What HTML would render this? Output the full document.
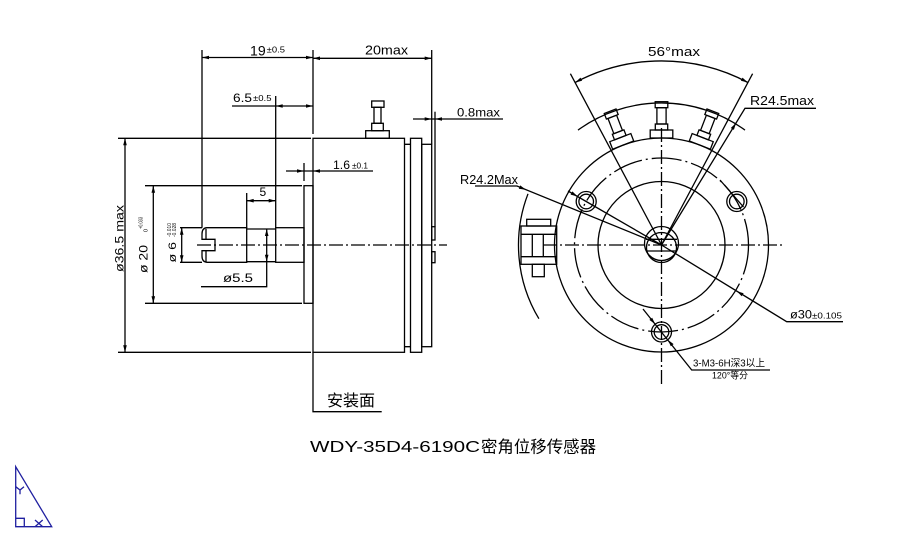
<!DOCTYPE html>
<html><head><meta charset="utf-8"><style>
html,body{margin:0;padding:0;background:#fff;width:923px;height:543px;overflow:hidden}
svg{display:block}
text{font-family:"Liberation Sans","Noto Sans CJK SC",sans-serif;fill:#000}
</style></head><body>
<svg width="923" height="543" viewBox="0 0 923 543" xmlns="http://www.w3.org/2000/svg">
<rect width="923" height="543" fill="#fff"/>
<g fill="none" stroke="#000" stroke-width="1.3">
<!-- LEFT VIEW -->
<line x1="202" y1="50" x2="202" y2="227.7"/>
<line x1="313" y1="50" x2="313" y2="134"/>
<line x1="202" y1="57.5" x2="313" y2="57.5"/>
<line x1="313" y1="58.3" x2="431.7" y2="58.3"/>
<line x1="431.7" y1="50" x2="431.7" y2="144.3"/>
<line x1="232" y1="106" x2="313" y2="106"/>
<line x1="275.7" y1="96" x2="275.7" y2="227.7"/>
<line x1="118" y1="138.3" x2="311" y2="138.3"/>
<rect x="313" y="138.3" width="91.5" height="214"/>
<path d="M404.5 144.3 H410.5 M404.5 346.7 H410.5"/>
<rect x="410.5" y="138.3" width="11.2" height="214"/>
<rect x="421.7" y="144.3" width="10" height="202.4"/>
<rect x="431.7" y="226.7" width="3.3" height="13.3"/>
<rect x="431.7" y="251.7" width="3.3" height="11"/>
<line x1="435" y1="111.7" x2="435" y2="226.7"/>
<line x1="413" y1="119" x2="503" y2="119"/>
<rect x="365.7" y="130.7" width="23.6" height="7.6"/>
<rect x="371.7" y="123.3" width="11.6" height="7.4"/>
<rect x="374" y="107.3" width="7" height="16"/>
<rect x="371.7" y="101" width="12.3" height="6.3"/>
<line x1="286" y1="171" x2="373" y2="171"/>
<line x1="304" y1="163" x2="304" y2="181"/>
<rect x="304" y="185.7" width="9" height="117.6"/>
<line x1="145" y1="185.7" x2="302" y2="185.7"/>
<line x1="145" y1="303.3" x2="302" y2="303.3"/>
<line x1="153.3" y1="185.7" x2="153.3" y2="303.3"/>
<line x1="125" y1="138.3" x2="125" y2="352.3"/>
<line x1="118" y1="352.3" x2="311" y2="352.3"/>
<rect x="275.7" y="227.7" width="28.3" height="34.6"/>
<path d="M246.7 229 H275.7 M246.7 261.7 H275.7"/>
<path d="M246.7 227.7 V262.3 H207 Q202 262 202 256 V250.7 H215 V239.3 H202 V234 Q202 228 207 227.7 Z"/>
<path d="M206 229 V239.3 M206 250.7 V261.5"/>
<line x1="246.7" y1="193" x2="246.7" y2="227.7"/>
<line x1="246.7" y1="200.7" x2="275.7" y2="200.7"/>
<line x1="181.7" y1="227.7" x2="181.7" y2="262.3"/>
<line x1="180" y1="227.7" x2="202" y2="227.7"/>
<line x1="180" y1="262.3" x2="202" y2="262.3"/>
<path d="M266.7 229 V286.7 H201"/>
<line x1="197" y1="245" x2="447" y2="245" stroke-dasharray="14 3 2 3"/>
<path d="M313 352.3 V411.7 H381.7"/>

<!-- RIGHT VIEW -->
<circle cx="661.5" cy="245" r="107"/>
<circle cx="661.5" cy="245" r="87" stroke-dasharray="30 4 2 4"/>
<circle cx="661.5" cy="245" r="63.5"/>
<circle cx="661.5" cy="243.5" r="17"/>
<circle cx="661.5" cy="247.5" r="15"/>
<path d="M646 239.3 H677 M646 251 H677"/>
<circle cx="661.5" cy="332" r="10"/><circle cx="661.5" cy="332" r="7.3"/>
<circle cx="586.2" cy="201.5" r="10"/><circle cx="586.2" cy="201.5" r="7.3"/>
<circle cx="736.8" cy="201.5" r="10"/><circle cx="736.8" cy="201.5" r="7.3"/>
<line x1="720" y1="180" x2="743.5" y2="207"/>
<line x1="568" y1="191" x2="661.5" y2="245"/>
<path d="M475 186 H517 L661.5 245"/>
<path d="M643 309 L691.7 370 H770"/>
<path d="M661.5 245 L786.7 321.7 H843"/>
<line x1="570.4" y1="73.7" x2="661.5" y2="245"/>
<line x1="752.6" y1="73.7" x2="661.5" y2="245"/>
<path d="M816 108.3 H745 L661.5 245"/>
<path d="M575.1 82.5 A184 184 0 0 1 747.9 82.5"/>
<path d="M578 130.1 A142 142 0 0 1 745 130.1"/>
<path d="M528 193.8 A143 143 0 0 0 538.9 318.7"/>
<line x1="543" y1="245" x2="783" y2="245" stroke-dasharray="14 3 2 3"/>
<line x1="661.5" y1="128" x2="661.5" y2="386" stroke-dasharray="14 3 2 3"/>
<g transform="translate(661.5,245)">
<rect x="-11.3" y="-115" width="22.6" height="8"/><rect x="-6.2" y="-121" width="12.4" height="6"/><rect x="-4.6" y="-137.3" width="9.2" height="16.3"/><rect x="-6.3" y="-143.3" width="12.6" height="6"/>
</g>
<g transform="translate(661.5,245) rotate(-21)">
<rect x="-11.3" y="-115" width="22.6" height="8"/><rect x="-6.2" y="-121" width="12.4" height="6"/><rect x="-4.6" y="-137.3" width="9.2" height="16.3"/><rect x="-6.3" y="-143.3" width="12.6" height="6"/>
</g>
<g transform="translate(661.5,245) rotate(21)">
<rect x="-11.3" y="-115" width="22.6" height="8"/><rect x="-6.2" y="-121" width="12.4" height="6"/><rect x="-4.6" y="-137.3" width="9.2" height="16.3"/><rect x="-6.3" y="-143.3" width="12.6" height="6"/>
</g>
<rect x="526.7" y="219.3" width="24" height="6.7"/>
<rect x="521" y="226" width="35.7" height="38.3"/>
<path d="M521 234.3 H556.7 M521 256.7 H556.7 M532.3 234.3 V256.7 M543.3 234.3 V256.7"/>
<rect x="532.3" y="264.3" width="12" height="12.4"/>
</g>

<!-- ARROWHEADS -->
<g fill="#000" stroke="none">
<polygon points="202,57.5 209,55.7 209,59.3"/>
<polygon points="313,57.5 306,55.7 306,59.3"/>
<polygon points="313,58.3 320,56.5 320,60.1"/>
<polygon points="431.7,58.3 424.7,56.5 424.7,60.1"/>
<polygon points="275.7,106 282.7,104.2 282.7,107.8"/>
<polygon points="313,106 306,104.2 306,107.8"/>
<polygon points="431.7,119 424.7,117.2 424.7,120.8"/>
<polygon points="435,119 442,117.2 442,120.8"/>
<polygon points="304,171 297,169.2 297,172.8"/>
<polygon points="313,171 320,169.2 320,172.8"/>
<polygon points="153.3,185.7 151.5,192.7 155.1,192.7"/>
<polygon points="153.3,303.3 151.5,296.3 155.1,296.3"/>
<polygon points="125,138.3 123.2,145.3 126.8,145.3"/>
<polygon points="125,352.3 123.2,345.3 126.8,345.3"/>
<polygon points="246.7,200.7 253.7,198.9 253.7,202.5"/>
<polygon points="275.7,200.7 268.7,198.9 268.7,202.5"/>
<polygon points="181.7,227.7 179.9,234.7 183.5,234.7"/>
<polygon points="181.7,262.3 179.9,255.3 183.5,255.3"/>
<polygon points="266.7,229 264.9,236 268.5,236"/>
<polygon points="266.7,261.7 264.9,254.7 268.5,254.7"/>
<polygon points="575.1,82.5 582.1,80.8 580.5,77.6"/>
<polygon points="747.9,82.5 740.9,80.8 742.5,77.6"/>
<polygon points="736,123 733.9,129.9 730.8,128"/>
<polygon points="526,189.7 518.8,188.7 520.2,185.4"/>
<polygon points="577.6,196.5 570.6,194.6 572.4,191.4"/>
<polygon points="655.2,324.2 649.4,319.9 652.2,317.7"/>
<polygon points="667.8,339.8 670.8,346.3 673.6,344.1"/>
<polygon points="736.7,291.1 743.6,293.2 741.7,296.3"/>
</g>

<!-- TEXT -->
<text x="250" y="55.5" font-size="13.5" textLength="15.7" lengthAdjust="spacingAndGlyphs">19</text>
<text x="266.7" y="52.5" font-size="8.5" textLength="18.3" lengthAdjust="spacingAndGlyphs">±0.5</text>
<text x="365" y="54.5" font-size="12.5" textLength="43" lengthAdjust="spacingAndGlyphs">20max</text>
<text x="233" y="102" font-size="11.5" textLength="19" lengthAdjust="spacingAndGlyphs">6.5</text>
<text x="253" y="101" font-size="8" textLength="18.5" lengthAdjust="spacingAndGlyphs">±0.5</text>
<text x="457" y="116.7" font-size="12" textLength="43" lengthAdjust="spacingAndGlyphs">0.8max</text>
<text x="333" y="169" font-size="11.5" textLength="17" lengthAdjust="spacingAndGlyphs">1.6</text>
<text x="352" y="168.5" font-size="8" textLength="16" lengthAdjust="spacingAndGlyphs">±0.1</text>
<text x="259.5" y="196" font-size="12">5</text>
<text x="223" y="282" font-size="12" textLength="30" lengthAdjust="spacingAndGlyphs">ø5.5</text>
<text x="327" y="406" font-size="16" textLength="48" lengthAdjust="spacingAndGlyphs">安装面</text>
<text transform="translate(123.3,272) rotate(-90)" font-size="12" textLength="67" lengthAdjust="spacingAndGlyphs">ø36.5 max</text>
<text transform="translate(147.7,273) rotate(-90)" font-size="12" textLength="28" lengthAdjust="spacingAndGlyphs">ø 20</text>
<text transform="translate(142.5,229) rotate(-90)" font-size="5.5" textLength="12" lengthAdjust="spacingAndGlyphs">+0.033</text>
<text transform="translate(147.5,232) rotate(-90)" font-size="5.5">0</text>
<text transform="translate(176,262.5) rotate(-90)" font-size="11" textLength="20.5" lengthAdjust="spacingAndGlyphs">ø 6</text>
<text transform="translate(171,237) rotate(-90)" font-size="5" textLength="14" lengthAdjust="spacingAndGlyphs">-0.010</text>
<text transform="translate(176,237) rotate(-90)" font-size="5" textLength="14" lengthAdjust="spacingAndGlyphs">-0.028</text>

<text x="648" y="56" font-size="12.5" textLength="52" lengthAdjust="spacingAndGlyphs">56°max</text>
<text x="750" y="105" font-size="12.5" textLength="64" lengthAdjust="spacingAndGlyphs">R24.5max</text>
<text x="460" y="184" font-size="12.5" textLength="58" lengthAdjust="spacingAndGlyphs">R24.2Max</text>
<text x="790" y="318.5" font-size="12" textLength="22" lengthAdjust="spacingAndGlyphs">ø30</text>
<text x="812" y="318.5" font-size="8" textLength="30" lengthAdjust="spacingAndGlyphs">±0.105</text>
<text x="693" y="366.7" font-size="10" textLength="72" lengthAdjust="spacingAndGlyphs">3-M3-6H深3以上</text>
<text x="712" y="378.5" font-size="9" textLength="36" lengthAdjust="spacingAndGlyphs">120°等分</text>

<text x="310" y="452" font-size="16" textLength="170" lengthAdjust="spacingAndGlyphs">WDY-35D4-6190C</text>
<text x="481" y="452.5" font-size="16.5" textLength="115" lengthAdjust="spacingAndGlyphs">密角位移传感器</text>

<!-- UCS ICON -->
<g fill="none" stroke="#1f1fa0" stroke-width="1.3">
<path d="M15.7 466.7 V526.7 H51.7 Z"/>
<path d="M15.7 518.3 H24.3 V526.7"/>
<path d="M15.7 486.7 L20 490 L24 486.7 M20 490 V494.3"/>
<path d="M35 520 L42.7 526.7 M35 526.7 L42.7 520"/>
</g>
</svg>
</body></html>
